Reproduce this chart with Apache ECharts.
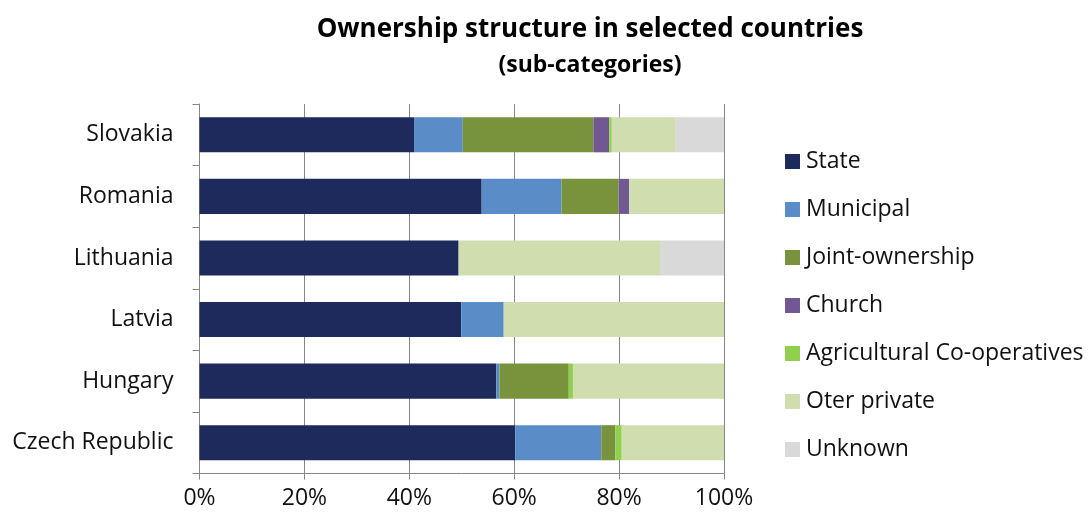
<!DOCTYPE html>
<html><head><meta charset="utf-8">
<script src="https://cdn.jsdelivr.net/npm/echarts@6/dist/echarts.min.js"></script>
<style>html,body{margin:0;padding:0;background:#fff}#c{width:1091px;height:516px}</style>
</head><body><div id="c"></div>
<script>
const categories = ['Czech Republic','Hungary','Latvia','Lithuania','Romania','Slovakia'];
const seriesNames = ['State','Municipal','Joint-ownership','Church','Agricultural Co-operatives','Oter private','Unknown'];
const state      = [60.2, 56.6, 49.9, 49.4, 53.8, 40.9];
const municipal  = [16.4, 0.6, 8.1, 0, 15.2, 9.3];
const joint      = [2.7, 13.2, 0, 0, 10.9, 24.9];
const church     = [0, 0, 0, 0, 2.0, 3.0];
const agri       = [1.2, 0.8, 0, 0, 0, 0.5];
const otherPriv  = [19.5, 28.8, 42.0, 38.4, 18.1, 12.2];
const unknown    = [0, 0, 0, 12.2, 0, 9.2];
const xTicks = [0, 20, 40, 60, 80, 100];
const colors = ['#1F2A5C','#5A8DC8','#78933C','#715893','#8FD14F','#D0DDAF','#D9D9D9'];
const values = [state, municipal, joint, church, agri, otherPriv, unknown];
const font = '"Open Sans", Lato, sans-serif';
const chart = echarts.init(document.getElementById('c'));
chart.setOption({
  animation:false,
  textStyle:{fontFamily:font},
  title:[
    {text:'Ownership structure in selected countries', left:585, top:12, textAlign:'center',
     textStyle:{fontSize:26, fontWeight:'bold', color:'#000', fontFamily:font}},
    {text:'(sub-categories)', left:585, top:49, textAlign:'center',
     textStyle:{fontSize:23, fontWeight:'bold', color:'#000', fontFamily:font}}
  ],
  legend:{orient:'vertical', left:780, top:145, itemWidth:15, itemHeight:15, itemGap:25,
    icon:'rect', data:seriesNames,
    textStyle:{fontSize:23, color:'#111', lineHeight:23, fontFamily:font, padding:[0,0,0,1]}},
  grid:{left:199.5, right:367, top:104, bottom:42.5},
  xAxis:{type:'value', min:xTicks[0], max:xTicks[xTicks.length-1], interval:20,
    axisLabel:{formatter:v=>v+'%', fontSize:23, color:'#111', margin:13, fontFamily:font},
    axisLine:{show:true, lineStyle:{color:'#868686', width:1}},
    axisTick:{show:true, length:6, lineStyle:{color:'#868686'}},
    splitLine:{show:true, lineStyle:{color:'#868686', width:1}}},
  yAxis:{type:'category', data:categories,
    axisLabel:{fontSize:23, color:'#111', margin:26, fontFamily:font},
    axisLine:{show:true, lineStyle:{color:'#868686', width:1}},
    axisTick:{show:true, length:7, alignWithLabel:false, lineStyle:{color:'#868686'}}},
  series: seriesNames.map((n,i)=>({
    name:n, type:'bar', stack:'total', data:values[i], barCategoryGap:'43%',
    itemStyle:{color:colors[i]}
  }))
});
</script></body></html>
